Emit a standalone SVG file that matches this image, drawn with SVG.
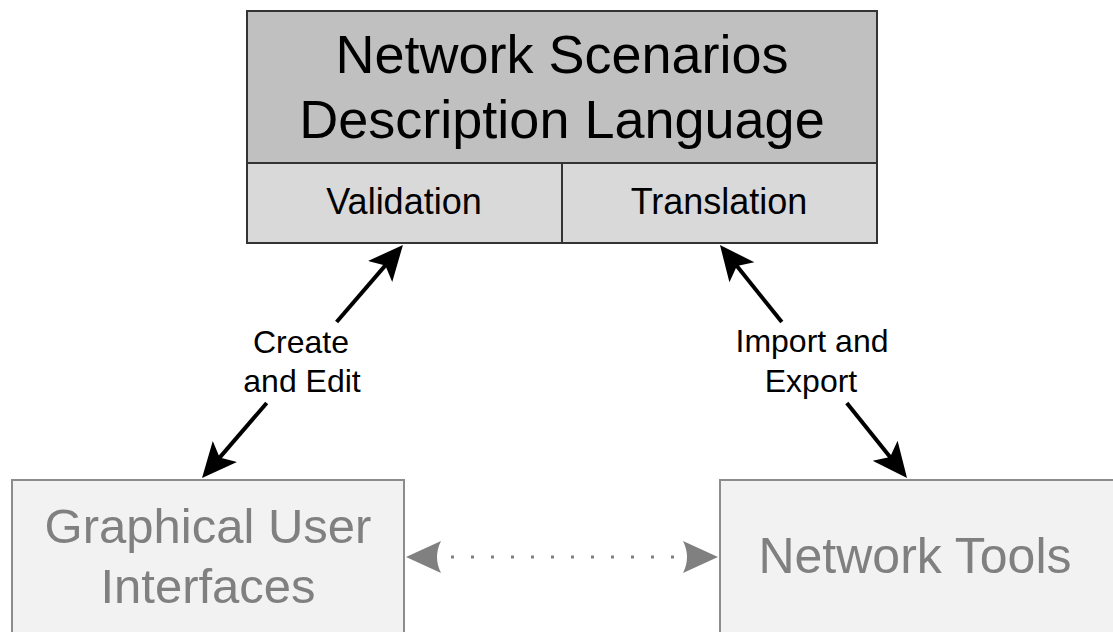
<svg xmlns="http://www.w3.org/2000/svg" width="1113" height="632" viewBox="0 0 1113 632">
  <style>
    .t { font-family: "Liberation Sans", Arial, sans-serif; text-anchor: middle; }
    .dark { fill: #000; }
    .light { fill: #808080; }
    .boxTop { stroke: #333; stroke-width: 2; }
    .boxLow { fill: #f2f2f2; stroke: #8c8c8c; stroke-width: 2; }
    .conn { stroke: #000; stroke-width: 4; fill: none; marker-end: url(#ah); }
  </style>
  <defs>
    <marker id="ah" markerUnits="userSpaceOnUse" markerWidth="40" markerHeight="36" viewBox="0 -18 40 36" refX="15" refY="0" orient="auto">
      <path d="M0,-16 L35,0 L0,16 L8,0 Z" fill="#000"/>
    </marker>
  </defs>
  <rect width="1113" height="632" fill="#fff"/>

  <g id="nsdl">
    <rect class="boxTop" x="247" y="11" width="630" height="152" fill="#c0c0c0"/>
    <text class="t dark" x="562" y="73" font-size="54">Network Scenarios</text>
    <text class="t dark" x="562" y="138" font-size="54">Description Language</text>
  </g>
  <g id="validation">
    <rect class="boxTop" x="247" y="163" width="315" height="80" fill="#d9d9d9"/>
    <text class="t dark" x="404" y="214" font-size="36">Validation</text>
  </g>
  <g id="translation">
    <rect class="boxTop" x="562" y="163" width="315" height="80" fill="#d9d9d9"/>
    <text class="t dark" x="719" y="214" font-size="36">Translation</text>
  </g>
  <g id="gui">
    <rect class="boxLow" x="12" y="480" width="392" height="170"/>
    <text class="t light" x="208" y="543" font-size="49">Graphical User</text>
    <text class="t light" x="208" y="603" font-size="49">Interfaces</text>
  </g>
  <g id="tools">
    <rect class="boxLow" x="720" y="480" width="400" height="170"/>
    <text class="t light" x="915" y="573" font-size="50">Network Tools</text>
  </g>

  <g id="connectors">
    <line class="conn" x1="336.6" y1="322" x2="389.9" y2="260.1"/>
    <line class="conn" x1="266.7" y1="403" x2="215.1" y2="462.9"/>
    <line class="conn" x1="781.8" y1="322" x2="732.5" y2="260.6"/>
    <line class="conn" x1="846.8" y1="403" x2="894.5" y2="462.4"/>
    <line x1="451" y1="557" x2="674" y2="557" stroke="#808080" stroke-width="3" stroke-dasharray="3 17"/>
    <path d="M406,557 L441,541 Q433,557 441,573 Z" fill="#808080"/>
    <path d="M718,557 L683,541 Q691,557 683,573 Z" fill="#808080"/>
    <text class="t dark" x="301" y="353" font-size="32">Create</text>
    <text class="t dark" x="302" y="392" font-size="32">and Edit</text>
    <text class="t dark" x="812" y="352" font-size="32">Import and</text>
    <text class="t dark" x="811" y="392" font-size="32">Export</text>
  </g>
</svg>
